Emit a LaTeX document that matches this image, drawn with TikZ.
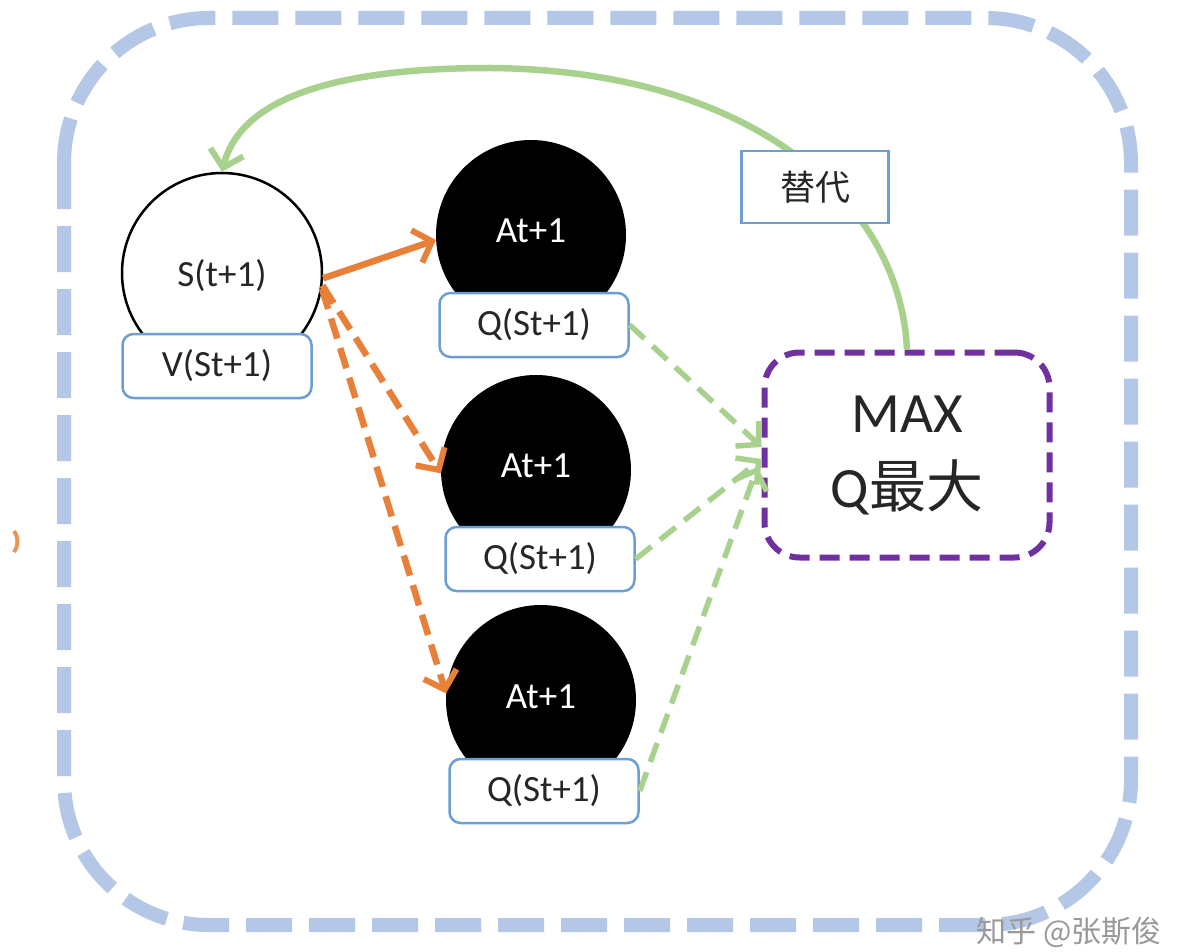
\documentclass[tikz,border=0pt]{standalone}
\usepackage{fontspec}
\setmainfont{Carlito}
\newfontfamily\cjk{Noto Sans CJK SC}
\usetikzlibrary{arrows.meta}
\definecolor{outerblue}{HTML}{B4C7E7}
\definecolor{boxblue}{HTML}{6C9DD3}
\definecolor{arrorange}{HTML}{E8803A}
\definecolor{arrgreen}{HTML}{A9D18E}
\definecolor{maxpurple}{HTML}{7030A0}
\definecolor{txt}{HTML}{262626}
\tikzset{
  lbl/.style={font=\fontsize{37}{42}\selectfont, text=txt},
  valbox/.style={draw=boxblue, line width=2.5pt, fill=white, rounded corners=11pt,
    minimum width=189pt, minimum height=64pt, inner sep=0pt, lbl},
  actcirc/.style={circle, fill=black, minimum size=190pt, inner sep=0pt},
  acttext/.style={font=\fontsize{37}{42}\selectfont, text=white},
  orarrow/.style={draw=arrorange, line width=6.5pt, -{Straight Barb[length=16pt,width=34pt,line width=6pt]}},
  grarrow/.style={draw=arrgreen, line width=5.5pt, dash pattern=on 20pt off 11pt,
    -{Straight Barb[length=16pt,width=34pt,line width=5.5pt]}},
}
\begin{document}
\begin{tikzpicture}[x=1pt,y=-1pt]
\useasboundingbox (0,0) rectangle (1204,952);
\fill[white] (0,0) rectangle (1204,952);
% outer dashed frame
\draw[outerblue, line width=14pt, dash pattern=on 46pt off 17pt, rounded corners=145pt]
  (64,18) rectangle (1131,925);
% small orange mark at left edge
\draw[arrorange!85, line width=4pt] (14,531) to[bend left=35] (14,552);
% state circle
\node[circle, draw=black, line width=2.5pt, fill=white, minimum size=200pt, inner sep=0pt] (s) at (222,273) {};
\node[lbl] (stext) at (222,276) {S(t+1)};
\node[valbox] (v) at (217,366) {V(St+1)};
% action circles
\node[actcirc] (a1) at (531,235) {};
\node[acttext] (a1t) at (531,231) {At+1};
\node[valbox] (q1) at (534,325) {Q(St+1)};
\node[actcirc] (a2) at (536,470) {};
\node[acttext] (a2t) at (536,466) {At+1};
\node[valbox] (q2) at (540,559) {Q(St+1)};
\node[actcirc] (a3) at (541,700) {};
\node[acttext] (a3t) at (541,697) {At+1};
\node[valbox] (q3) at (544,791) {Q(St+1)};
% max box
\node[draw=maxpurple, line width=6pt, dash pattern=on 20pt off 10pt, rounded corners=35pt,
  minimum width=285pt, minimum height=205pt, fill=white, align=center, text=txt,
  font=\fontsize{57}{75}\selectfont] (max) at (907,455) {MAX\\Q{\cjk 最大}};
% orange arrows
\draw[orarrow] (s.-3) -- (a1.183);
\draw[orarrow, dash pattern=on 21pt off 10pt] (s.-7) -- (a2.182);
\draw[orarrow, dash pattern=on 21pt off 10pt] (s.-9) -- (a3.176);
% green dashed arrows
\draw[grarrow] (q1.east) -- ([yshift=8pt]max.west);
\draw[grarrow] (q2.east) -- ([yshift=-4pt]max.west);
\draw[grarrow] (q3.east) -- ([yshift=-12pt,xshift=-4pt]max.west);
% green replacement curve
\coordinate (peak) at (490,68);
\draw[arrgreen, line width=6.5pt, -{Straight Barb[length=16pt,width=34pt,line width=6pt]}]
  (max.north) .. controls (900,200) and (750,70) .. (peak)
  .. controls (330,68) and (240,100) .. (s.north);
\node[draw=boxblue, line width=2.5pt, fill=white, minimum width=147pt, minimum height=72pt,
  inner sep=0pt, text=txt, font=\cjk\fontsize{35}{40}\selectfont] (rep) at (815,187) {替代};
% watermark
\node[text=black!40, font=\cjk\fontsize{30}{34}\selectfont, anchor=east] (wm) at (1165,932) {知乎 @张斯俊};
\end{tikzpicture}
\end{document}
